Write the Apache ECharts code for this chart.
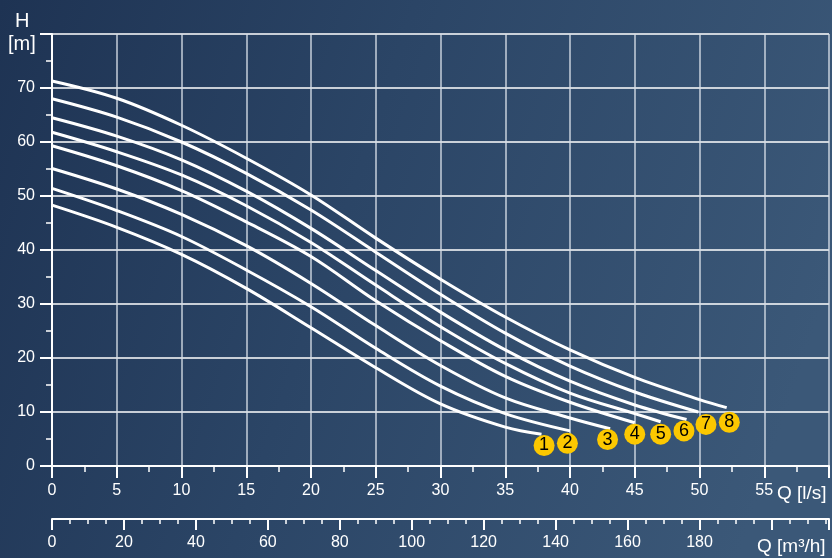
<!DOCTYPE html>
<html>
<head>
<meta charset="utf-8">
<script src="https://cdn.jsdelivr.net/npm/echarts@6/dist/echarts.min.js"></script>
<style>
html,body{margin:0;padding:0;background:#2a4363;}
#c{width:832px;height:558px;}
</style>
</head>
<body>
<div id="c"></div>
<script>
// Flow Q [l/s] and head H [m] for each pump curve 1..8
const q1 = [0, 5, 10, 15, 20, 25, 30, 35, 37.8];
const h1 = [48.3, 44.2, 39.2, 32.9, 25.6, 18.2, 11.5, 7.2, 5.9];
const q2 = [0, 5, 10, 15, 20, 25, 30, 35, 40];
const h2 = [51.4, 47.3, 42.5, 36.3, 29.5, 21.8, 14.8, 9.7, 6.5];
const q3 = [0, 5, 10, 15, 20, 25, 30, 35, 40, 43.1];
const h3 = [55.1, 51.3, 46.6, 40.8, 33.8, 26.0, 18.6, 12.6, 8.9, 6.9];
const q4 = [0, 5, 10, 15, 20, 25, 30, 35, 40, 45];
const h4 = [59.3, 55.6, 51.0, 45.2, 38.8, 30.6, 23.2, 16.6, 11.8, 8.0];
const q5 = [0, 5, 10, 15, 20, 25, 30, 35, 40, 45, 47];
const h5 = [61.8, 58.2, 53.9, 48.2, 41.4, 33.5, 25.8, 19.0, 13.5, 9.7, 8.2];
const q6 = [0, 5, 10, 15, 20, 25, 30, 35, 40, 45, 49];
const h6 = [64.5, 61.1, 56.7, 50.9, 44.0, 36.2, 28.5, 21.5, 15.7, 11.3, 8.6];
const q7 = [0, 5, 10, 15, 20, 25, 30, 35, 40, 45, 49.9];
const h7 = [68.0, 64.6, 60.0, 54.2, 47.4, 39.6, 31.8, 24.6, 18.5, 13.7, 10.0];
const q8 = [0, 5, 10, 15, 20, 25, 30, 35, 40, 45, 50, 52.1];
const h8 = [71.3, 68.1, 63.1, 57.0, 50.2, 42.2, 34.6, 27.6, 21.5, 16.4, 12.3, 10.8];

// curve number badges (data coordinates)
const badgeNames = ['1', '2', '3', '4', '5', '6', '7', '8'];
const badgeQ = [38.0, 39.8, 42.9, 45.0, 47.0, 48.8, 50.5, 52.3];
const badgeH = [3.8, 4.2, 4.9, 5.9, 5.9, 6.5, 7.7, 8.1];

// axis extents
const qMaxLs = 60;
const qMaxM3h = qMaxLs * 3.6;
const hMax = 80;

const curvesQ = [q1, q2, q3, q4, q5, q6, q7, q8];
const curvesH = [h1, h2, h3, h4, h5, h6, h7, h8];

const FONT = 'Liberation Sans, Arial, sans-serif';
const W = '#ffffff';

const chart = echarts.init(document.getElementById('c'), null, {renderer: 'canvas'});

const lineSeries = curvesQ.map((qs, i) => ({
  type: 'line',
  name: badgeNames[i],
  xAxisIndex: 0,
  yAxisIndex: 0,
  smooth: 0.35,
  showSymbol: false,
  symbol: 'none',
  lineStyle: {color: W, width: 3},
  data: qs.map((q, j) => [q, curvesH[i][j]]),
  z: 3
}));

const badgeSeries = {
  type: 'scatter',
  xAxisIndex: 0,
  yAxisIndex: 0,
  symbol: 'circle',
  symbolSize: 21,
  itemStyle: {color: '#fcc800', opacity: 1},
  emphasis: {disabled: true},
  label: {
    show: true,
    position: 'inside',
    formatter: p => p.data[2],
    color: '#000',
    fontSize: 18,
    fontFamily: FONT
  },
  data: badgeQ.map((q, i) => [q, badgeH[i], badgeNames[i]]),
  z: 5
};

const option = {
  animation: false,
  backgroundColor: {
    type: 'linear', x: 0, y: 0, x2: 1, y2: 0.5,
    colorStops: [
      {offset: 0, color: '#1e3353'},
      {offset: 0.45, color: '#2b4566'},
      {offset: 1, color: '#3b5878'}
    ]
  },
  grid: {left: 52, right: 2, top: 34, bottom: 92, containLabel: false},
  xAxis: [
    {
      type: 'value', min: 0, max: qMaxLs, interval: 5, position: 'bottom',
      axisLine: {show: true, onZero: false, lineStyle: {color: W, width: 2}},
      axisTick: {show: true, length: 12, lineStyle: {color: W, width: 2}},
      minorTick: {show: true, splitNumber: 2, length: 6, lineStyle: {color: W, width: 1.5}},
      axisLabel: {
        margin: 17, color: W, fontSize: 16, fontFamily: FONT,
        formatter: v => (v >= qMaxLs ? '' : String(v))
      },
      splitLine: {show: true, lineStyle: {color: 'rgba(215,222,232,0.9)', width: 1.5}}
    },
    {
      type: 'value', min: 0, max: qMaxM3h, interval: 20, position: 'bottom', offset: 53,
      axisLine: {show: true, onZero: false, lineStyle: {color: W, width: 2}},
      axisTick: {show: true, length: 11, lineStyle: {color: W, width: 2}},
      minorTick: {show: true, splitNumber: 4, length: 5, lineStyle: {color: W, width: 1.5}},
      axisLabel: {
        margin: 16, color: W, fontSize: 16, fontFamily: FONT,
        formatter: v => (v >= 190 ? '' : String(v))
      },
      splitLine: {show: false}
    }
  ],
  yAxis: {
    type: 'value', min: 0, max: hMax, interval: 10,
    axisLine: {show: true, onZero: false, lineStyle: {color: W, width: 2}},
    axisTick: {show: true, length: 12, lineStyle: {color: W, width: 2}},
    minorTick: {show: true, splitNumber: 2, length: 6, lineStyle: {color: W, width: 1.5}},
    axisLabel: {
      margin: 17, color: W, fontSize: 16, fontFamily: FONT,
      formatter: v => (v >= hMax ? '' : String(v))
    },
    splitLine: {show: true, lineStyle: {color: W, width: 1.5}}
  },
  graphic: [
    {type: 'text', left: 15, top: 11, style: {text: 'H', fill: W, font: '20px ' + FONT}},
    {type: 'text', left: 8, top: 34, style: {text: '[m]', fill: W, font: '20px ' + FONT}},
    {type: 'text', left: 777, top: 484, style: {text: 'Q [l/s]', fill: W, font: '19px ' + FONT}},
    {type: 'text', left: 757, top: 537, style: {text: 'Q [m³/h]', fill: W, font: '19px ' + FONT}}
  ],
  series: [...lineSeries, badgeSeries]
};

chart.setOption(option);
</script>
</body>
</html>
